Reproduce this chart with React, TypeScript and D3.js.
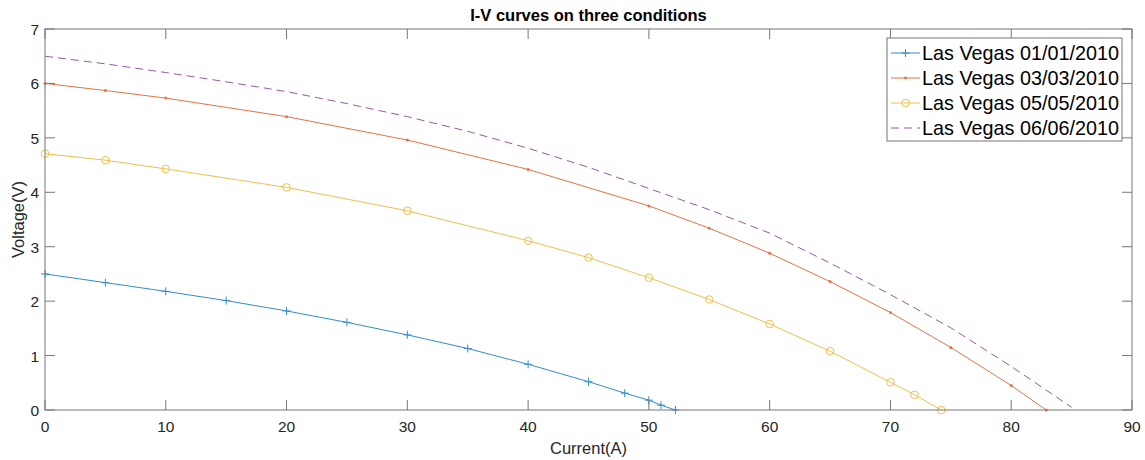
import React from "react";
import * as d3 from "d3";

const xTicks = [0, 10, 20, 30, 40, 50, 60, 70, 80, 90];
const yTicks = [0, 1, 2, 3, 4, 5, 6, 7];

const blueX = [0, 5, 10, 15, 20, 25, 30, 35, 40, 45, 48, 50, 51, 52.2];
const blueY = [2.5, 2.34, 2.18, 2.01, 1.82, 1.61, 1.38, 1.13, 0.84, 0.52, 0.31, 0.18, 0.09, 0];

const redX = [0, 5, 10, 20, 30, 40, 50, 55, 60, 65, 70, 75, 80, 82.9];
const redY = [6.0, 5.87, 5.73, 5.39, 4.96, 4.42, 3.75, 3.34, 2.88, 2.36, 1.79, 1.15, 0.45, 0];

const yellowX = [0, 5, 10, 20, 30, 40, 45, 50, 55, 60, 65, 70, 72, 74.2];
const yellowY = [4.71, 4.59, 4.43, 4.09, 3.66, 3.11, 2.8, 2.43, 2.03, 1.58, 1.08, 0.51, 0.28, 0];

const purpleX = [0, 5, 10, 15, 20, 25, 30, 35, 40, 45, 50, 55, 60, 65, 70, 75, 80, 85];
const purpleY = [6.5, 6.36, 6.2, 6.03, 5.85, 5.63, 5.39, 5.12, 4.81, 4.46, 4.07, 3.68, 3.25, 2.7, 2.12, 1.51, 0.8, 0.05];

const seriesNames = [
  "Las Vegas 01/01/2010",
  "Las Vegas 03/03/2010",
  "Las Vegas 05/05/2010",
  "Las Vegas 06/06/2010",
];

const W = 1145;
const H = 460;
const L = 45, R = 1132, T = 29, B = 410;
const FONT = "'Liberation Sans', Arial, Helvetica, sans-serif";

const series = [
  { name: seriesNames[0], xs: blueX, ys: blueY, color: "#0072BD", marker: "plus", dash: "" },
  { name: seriesNames[1], xs: redX, ys: redY, color: "#D95319", marker: "dot", dash: "" },
  { name: seriesNames[2], xs: yellowX, ys: yellowY, color: "#EDB120", marker: "circle", dash: "" },
  { name: seriesNames[3], xs: purpleX, ys: purpleY, color: "#7E2F8E", marker: "none", dash: "8,5" },
];

function Marker({ kind, x, y, color }: { kind: string; x: number; y: number; color: string }) {
  if (kind === "plus") {
    return (
      <g stroke={color} strokeWidth={1}>
        <line x1={x - 4} x2={x + 4} y1={y} y2={y} />
        <line x1={x} x2={x} y1={y - 4} y2={y + 4} />
      </g>
    );
  }
  if (kind === "circle") {
    return <circle cx={x} cy={y} r={3.8} fill="none" stroke={color} strokeWidth={1} />;
  }
  if (kind === "dot") {
    return <circle cx={x} cy={y} r={1.5} fill={color} stroke="none" />;
  }
  return null;
}

export default function App() {
  const x = d3.scaleLinear().domain([0, 90]).range([L, R]);
  const y = d3.scaleLinear().domain([0, 7]).range([B, T]);
  const line = d3
    .line<[number, number]>()
    .x((d) => x(d[0]))
    .y((d) => y(d[1]));

  const axisColor = "#777777";
  const textColor = "#262626";
  const tickLen = 10;

  const legX = 887, legY = 38, legW = 235, legH = 103;
  const rowY = [53, 78, 103, 128];

  return (
    <svg
      width={W}
      height={H}
      style={{ position: "absolute", left: 0, top: 0, background: "#fff" }}
      fontFamily={FONT}
    >
      <rect x={0} y={0} width={W} height={H} fill="#fff" />
      {/* title */}
      <text x={(L + R) / 2} y={21} textAnchor="middle" fontSize={16.5} fontWeight="bold" fill="#000">
        I-V curves on three conditions
      </text>

      {/* series */}
      <defs>
        <clipPath id="clip">
          <rect x={L - 6} y={T} width={R - L + 12} height={B - T + 6} />
        </clipPath>
      </defs>
      <g clipPath="url(#clip)" opacity={0.8}>
        {series.map((s, i) => {
          const pts = s.xs.map((v, j) => [v, s.ys[j]] as [number, number]);
          return (
            <g key={i}>
              <path
                d={line(pts) || ""}
                fill="none"
                stroke={s.color}
                strokeWidth={1}
                strokeDasharray={s.dash || undefined}
              />
              {pts.map((p, j) => (
                <Marker key={j} kind={s.marker} x={x(p[0])} y={y(p[1])} color={s.color} />
              ))}
            </g>
          );
        })}
      </g>

      {/* axes box */}
      <rect x={L} y={T} width={R - L} height={B - T} fill="none" stroke={axisColor} strokeWidth={1} />
      {xTicks.map((t) => (
        <g key={"x" + t}>
          <line x1={x(t)} x2={x(t)} y1={B} y2={B - tickLen} stroke={axisColor} />
          <line x1={x(t)} x2={x(t)} y1={T} y2={T + tickLen} stroke={axisColor} />
          <text x={x(t)} y={B + 22} textAnchor="middle" fontSize={15.5} fill={textColor}>
            {t}
          </text>
        </g>
      ))}
      {yTicks.map((t) => (
        <g key={"y" + t}>
          <line x1={L} x2={L + tickLen} y1={y(t)} y2={y(t)} stroke={axisColor} />
          <line x1={R} x2={R - tickLen} y1={y(t)} y2={y(t)} stroke={axisColor} />
          <text x={L - 6} y={y(t) + 6} textAnchor="end" fontSize={15.5} fill={textColor}>
            {t}
          </text>
        </g>
      ))}

      {/* axis labels */}
      <text x={(L + R) / 2} y={454} textAnchor="middle" fontSize={16.5} fill={textColor}>
        Current(A)
      </text>
      <text
        transform={`translate(24, ${(T + B) / 2}) rotate(-90)`}
        textAnchor="middle"
        fontSize={16.5}
        fill={textColor}
      >
        Voltage(V)
      </text>

      {/* legend */}
      <rect x={legX} y={legY} width={legW} height={legH} fill="#fff" stroke={axisColor} strokeWidth={1} />
      {series.map((s, i) => (
        <g key={"leg" + i}>
          <g opacity={0.8}>
            <line
              x1={891}
              x2={920}
              y1={rowY[i]}
              y2={rowY[i]}
              stroke={s.color}
              strokeWidth={1}
              strokeDasharray={s.dash || undefined}
            />
            <Marker kind={s.marker} x={905.5} y={rowY[i]} color={s.color} />
          </g>
          <text x={922} y={rowY[i] + 7} fontSize={19.8} fill="#000">
            {s.name}
          </text>
        </g>
      ))}
    </svg>
  );
}
